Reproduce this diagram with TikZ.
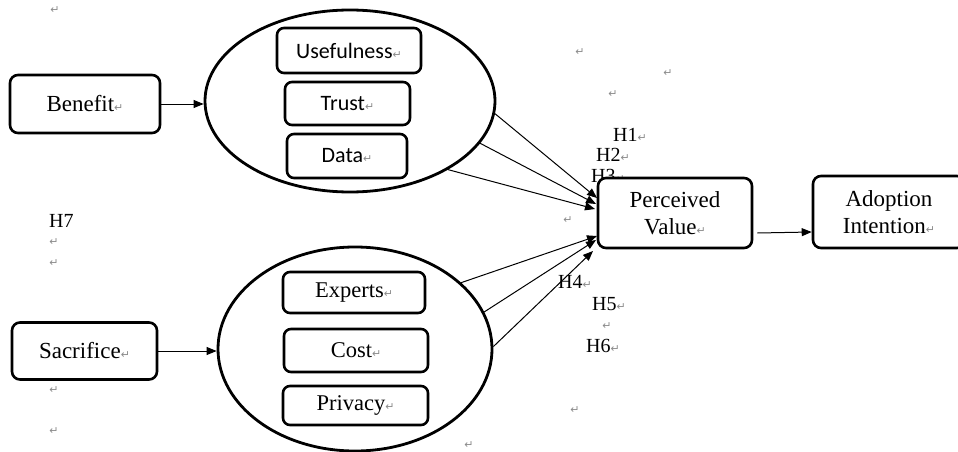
\documentclass[tikz,border=0pt]{standalone}
\usepackage{fontspec}
\setmainfont{Liberation Serif}
\newfontfamily\calib{Carlito}
\newfontfamily\djv{DejaVu Sans}
\usetikzlibrary{shapes.geometric,arrows.meta}
\newcommand\retmark{{\djv\fontsize{11}{11}\selectfont\color{black!45}↵}}
\begin{document}
\begin{tikzpicture}[x=1pt,y=-1pt,
 box/.style={draw,line width=2.6pt,rounded corners=8pt,fill=white,inner sep=0pt,align=center,font=\fontsize{23}{27}\selectfont},
 sub/.style={draw,line width=2.6pt,rounded corners=7pt,fill=white,inner sep=0pt,font=\fontsize{22.5}{26}\selectfont},
 subsans/.style={sub,font=\calib\fontsize{22}{26}\selectfont},
 oval/.style={draw,ellipse,line width=2.8pt,inner sep=0pt,fill=white},
 conn/.style={line width=1pt,-{Triangle[length=10pt,width=8pt]}},
 hyp/.style={anchor=west,inner sep=0pt,font=\fontsize{20}{20}\selectfont},
 mk/.style={inner sep=0pt}
]
\useasboundingbox (0,0) rectangle (958,452);
\clip (0,0) rectangle (958,452);
\fill[white] (0,0) rectangle (958,452);

% return marks
\node[mk] (m1) at (55,10) {\retmark};
\node[mk] (m2) at (580,52) {\retmark};
\node[mk] (m3) at (668,73) {\retmark};
\node[mk] (m4) at (613,94) {\retmark};
\node[mk] (m5) at (568,220) {\retmark};
\node[mk] (m6) at (54,242) {\retmark};
\node[mk] (m7) at (54,263) {\retmark};
\node[mk] (m8) at (54,390) {\retmark};
\node[mk] (m9) at (54,431) {\retmark};
\node[mk] (m10) at (607,326) {\retmark};
\node[mk] (m11) at (575,410) {\retmark};
\node[mk] (m12) at (469,445) {\retmark};

% hypothesis labels
\node[hyp] (h1) at (613,135) {H1\retmark};
\node[hyp] (h2) at (596,155) {H2\retmark};
\node[hyp] (h3) at (591,176) {H3\retmark};
\node[hyp] (h4) at (558,282) {H4\retmark};
\node[hyp] (h5) at (592,304) {H5\retmark};
\node[hyp] (h6) at (586,346) {H6\retmark};
\node[hyp] (h7) at (49,221) {H7};

% ellipses
\node[oval,minimum width=290pt,minimum height=182pt] (topell) at (350,101) {};
\node[oval,minimum width=274pt,minimum height=204pt] (botell) at (355,349) {};

% sub boxes
\node[subsans,minimum width=144pt,minimum height=45pt] (use) at (349,50.5) {Usefulness\retmark};
\node[subsans,minimum width=125pt,minimum height=43pt] (trust) at (347.5,103.5) {Trust\retmark};
\node[subsans,minimum width=120pt,minimum height=44pt] (data) at (347,156) {Data\retmark};
\node[sub,minimum width=142pt,minimum height=41pt] (exp) at (354,292.5) {Experts\retmark};
\node[sub,minimum width=144pt,minimum height=43pt] (cost) at (356,350.5) {Cost\retmark};
\node[sub,minimum width=145pt,minimum height=39pt] (priv) at (355.5,405.5) {Privacy\retmark};

% main boxes
\node[box,minimum width=150pt,minimum height=58pt] (ben) at (85,104) {Benefit\retmark};
\node[box,minimum width=145pt,minimum height=57pt] (sac) at (84.5,351) {Sacrifice\retmark};
\node[box,minimum width=154pt,minimum height=70pt] (pv) at (675,213) {Perceived\\Value\retmark};
\node[box,minimum width=152pt,minimum height=72pt] (ai) at (889,212) {Adoption\\Intention\retmark};

% connector end points
\coordinate (t1) at (597,198);
\coordinate (t2) at (596,204);
\coordinate (t3) at (595,209);
\coordinate (b1) at (597,236);
\coordinate (b2) at (596,240);
\coordinate (b3) at (593,251);

\draw[conn] (ben.east) -- (ben.east -| topell.west);
\draw[conn] (sac.east) -- (sac.east -| botell.west);
\draw[conn] (topell.-5) -- (t1);
\draw[conn] (topell.-18) -- (t2);
\draw[conn] (topell.-35) -- (t3);
\draw[conn] (botell.32) -- (b1);
\draw[conn] (botell.16) -- (b2);
\draw[conn] (botell.1) -- (b3);
\draw[conn] ([yshift=-20pt]pv.east) ++(4,0) -- ([yshift=-20pt]ai.west);
\end{tikzpicture}
\end{document}
